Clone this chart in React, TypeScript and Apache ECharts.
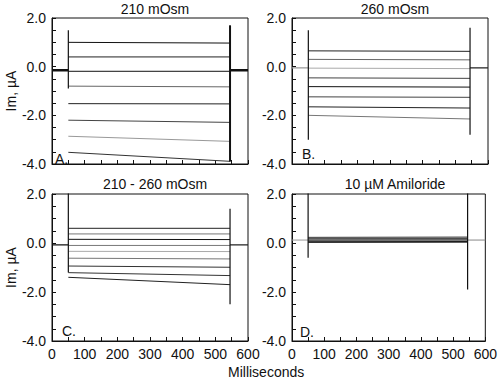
import React, { useEffect, useRef } from "react";
import * as echarts from "echarts";

// ---- axis settings ----
const X_MIN = 0;
const X_MAX = 600;
const X_STEP = 100;
const Y_MIN = -4;
const Y_MAX = 2;
const Y_STEP = 2;

// ---- panel texts ----
const titles = ["210 mOsm", "260 mOsm", "210 - 260 mOsm", "10 \u00B5M Amiloride"];
const letters = ["A.", "B.", "C.", "D."];
const yName = "Im, \u00B5A";
const xName = "Milliseconds";

// ---- pulse timing (ms) ----
const pulseOn = 50;
const pulseOff = 545;

// ---- holding currents (µA) ----
const baselines = [-0.15, -0.05, -0.08, 0.12];

// ---- step currents at pulse start / end (µA) ----
const aStart = [1.0, 0.4, -0.19, -0.8, -1.52, -2.2, -2.86, -3.52];
const aEnd = [0.97, 0.4, -0.19, -0.83, -1.53, -2.29, -3.07, -3.89];
const bStart = [0.65, 0.3, -0.06, -0.46, -0.82, -1.24, -1.65, -2.0];
const bEnd = [0.63, 0.28, -0.08, -0.48, -0.84, -1.26, -1.7, -2.15];
const cStart = [0.6, 0.37, 0.15, -0.1, -0.34, -0.62, -0.94, -1.21, -1.4];
const cEnd = [0.6, 0.37, 0.14, -0.1, -0.35, -0.65, -0.99, -1.33, -1.7];
const dStart = [0.23, 0.2, 0.17, 0.14, 0.11, 0.08, 0.05, 0.02];
const dEnd = [0.24, 0.21, 0.18, 0.15, 0.12, 0.09, 0.06, 0.03];

// ---- capacitive transients [max, min] (µA) ----
const onSpikes = [[1.5, -0.9], [1.5, -3.0], [2.2, -1.2], [2.2, -0.6]];
const offSpikes = [[1.7, -3.9], [1.6, -2.8], [1.4, -2.5], [2.2, -1.9]];

const startSets = [aStart, bStart, cStart, dStart];
const endSets = [aEnd, bEnd, cEnd, dEnd];

// styles
const traceColors = [
  ["#111", "#222", "#111", "#666", "#222", "#444", "#999", "#333"],
  ["#222", "#666", "#aaa", "#444", "#111", "#444", "#222", "#777"],
  ["#222", "#777", "#111", "#777", "#aaa", "#777", "#333", "#333", "#222"],
  ["#222", "#777", "#333", "#888", "#222", "#777", "#111", "#333"],
];
const baseStyles = [
  { pre: "#111", post: "#111", w: 2.5 },
  { pre: "#999", post: "#222", w: 1.2 },
  { pre: "#111", post: "#222", w: 1.3 },
  { pre: "#999", post: "#888", w: 1 },
];
const grids = [
  { left: 52, top: 18, width: 196, height: 146 },
  { left: 292, top: 18, width: 196, height: 146 },
  { left: 52, top: 194, width: 196, height: 147 },
  { left: 292, top: 194, width: 196, height: 147 },
];
const letterPos = [
  [55, 152],
  [302, 147],
  [62, 324],
  [300, 325],
];
const FONT = "'Liberation Sans', Arial, sans-serif";
const FS = 14;

export default function App() {
  const ref = useRef<HTMLDivElement>(null);
  useEffect(() => {
    if (!ref.current) return;
    const chart = echarts.init(ref.current, undefined, { renderer: "svg" });

    const series: any[] = [];
    for (let p = 0; p < 4; p++) {
      const b = baselines[p];
      const bs = baseStyles[p];
      series.push({
        type: "line",
        xAxisIndex: p,
        yAxisIndex: p,
        symbol: "none",
        lineStyle: { color: bs.pre, width: bs.w },
        data: [[X_MIN, b], [pulseOn, b]],
      });
      series.push({
        type: "line",
        xAxisIndex: p,
        yAxisIndex: p,
        symbol: "none",
        lineStyle: { color: bs.post, width: bs.w },
        data: [[pulseOff, b], [X_MAX, b]],
      });
      const st = startSets[p];
      const en = endSets[p];
      for (let i = 0; i < st.length; i++) {
        series.push({
          type: "line",
          xAxisIndex: p,
          yAxisIndex: p,
          symbol: "none",
          lineStyle: { color: traceColors[p][i % traceColors[p].length], width: 1 },
          data: [[pulseOn, st[i]], [pulseOff, en[i]]],
        });
      }
      series.push({
        type: "line",
        xAxisIndex: p,
        yAxisIndex: p,
        symbol: "none",
        lineStyle: { color: "#111", width: 1.2 },
        data: [[pulseOn, onSpikes[p][0]], [pulseOn, onSpikes[p][1]]],
      });
      series.push({
        type: "line",
        xAxisIndex: p,
        yAxisIndex: p,
        symbol: "none",
        lineStyle: { color: "#111", width: p === 0 ? 2 : 1.2 },
        data: [[pulseOff, offSpikes[p][0]], [pulseOff, offSpikes[p][1]]],
      });
    }

    const option: any = {
      animation: false,
      backgroundColor: "#fff",
      title: titles.map((t, p) => ({
        text: t,
        left: grids[p].left + grids[p].width / 2,
        top: p < 2 ? -3 : 172,
        textAlign: "center",
        textStyle: { fontFamily: FONT, fontSize: FS, fontWeight: "normal", color: "#111" },
      })),
      grid: grids.map((g) => ({
        ...g,
        show: true,
        borderColor: "#111",
        borderWidth: 1,
        containLabel: false,
      })),
      xAxis: grids.map((_, p) => ({
        type: "value",
        gridIndex: p,
        min: X_MIN,
        max: X_MAX,
        interval: X_STEP,
        axisLine: { show: true, onZero: false, lineStyle: { color: "#111" } },
        axisTick: { show: true, inside: true, length: 4, lineStyle: { color: "#111" } },
        minorTick: { show: true, splitNumber: 2, length: 4, lineStyle: { color: "#111" } },
        splitLine: { show: false },
        axisLabel: {
          show: p >= 2,
          margin: 6,
          fontFamily: FONT,
          fontSize: FS,
          color: "#111",
        },
      })),
      yAxis: grids.map((_, p) => ({
        type: "value",
        gridIndex: p,
        min: Y_MIN,
        max: Y_MAX,
        interval: Y_STEP,
        axisLine: { show: true, onZero: false, lineStyle: { color: "#111" } },
        axisTick: { show: true, inside: true, length: 4, lineStyle: { color: "#111" } },
        minorTick: { show: true, splitNumber: 4, length: 4, lineStyle: { color: "#111" } },
        splitLine: { show: false },
        axisLabel: {
          margin: 6,
          fontFamily: FONT,
          fontSize: FS,
          color: "#111",
          formatter: (v: number) => v.toFixed(1),
        },
        name: p % 2 === 0 ? yName : "",
        nameLocation: "middle",
        nameGap: 33,
        nameTextStyle: { fontFamily: FONT, fontSize: FS, color: "#111" },
      })),
      graphic: [
        ...letters.map((l, p) => ({
          type: "text",
          left: letterPos[p][0],
          top: letterPos[p][1],
          style: { text: l, font: `${FS}px ${FONT}`, fill: "#111" },
        })),
        {
          type: "text",
          left: 228,
          top: 365,
          style: { text: xName, font: `${FS}px ${FONT}`, fill: "#111" },
        },
      ],
      series,
    };

    chart.setOption(option);
    return () => chart.dispose();
  }, []);
  return (
    <div
      ref={ref}
      style={{ position: "absolute", left: 0, top: 0, width: 500, height: 382 }}
    />
  );
}
